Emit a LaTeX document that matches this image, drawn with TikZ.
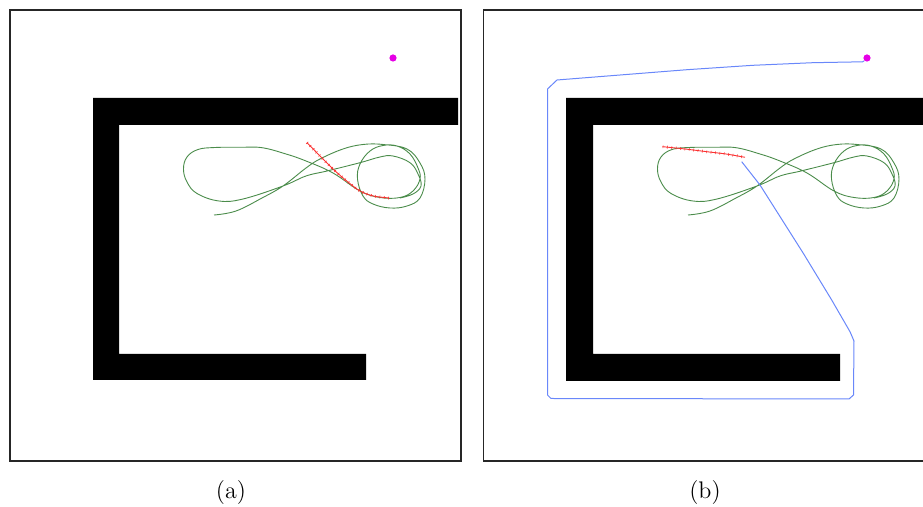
\documentclass[tikz,border=0pt]{standalone}
\usepackage{tikz}
\definecolor{mygreen}{RGB}{75,140,75}
\definecolor{myred}{RGB}{250,50,50}
\definecolor{myblue}{RGB}{105,135,250}
\definecolor{mymagenta}{RGB}{230,0,230}

\begin{document}
\begin{tikzpicture}[
    x=0.5pt, y=-0.5pt,
    frame/.style={draw=black!85, line width=0.55pt},
    wall/.style={fill=black},
    goal/.style={circle, fill=mymagenta, inner sep=0pt, minimum size=3.6pt},
    traj/.style={draw=mygreen, line width=0.45pt},
    pred/.style={draw=myred, line width=0.45pt,
        postaction={draw=myred, line width=1.4pt, dash pattern=on 0.3pt off 1.9pt}},
    plan/.style={draw=myblue, line width=0.5pt, line join=round},
    caption/.style={font=\fontsize{12}{14}\selectfont},
    trajectory/.pic={
        \draw[traj] plot[smooth, tension=0.65] coordinates {
            (214,215) (236,211) (262,198) (283,186) (306,168) (320,159)
            (343,149) (363,144.5) (383,144.5) (407,149) (420,163) (425,179)
            (420,198) (407,206) (390,208) (373,204) (363,196) (357.5,179)
            (360,164) (370,151) (383,145.5) (397,146) (410,154) (418,168)
            (420,179) (413,191) (400,197.5) (380,197.5) (360,191) (333,173)
            (306,161) (286,154) (262,147.7) (240,147.3) (215,147.5) (198,149.5)
            (187,157) (183.5,169) (187,182) (197,193.5) (219,201) (243,199)
            (283,186) (306,176) (327,171) (360,162.7) (380,157) (393,156)
            (410,162.7) (418,174) (421,186) (413,194) (400,198)
        };
    },
]
    \useasboundingbox (0,0) rectangle (923,507);

    % Panel (a)
    \draw[frame] (10,10) rectangle (461,461);
    \fill[wall] (93,98) -- (458,98) -- (458,125) -- (119,125) -- (119,354)
        -- (366,354) -- (366,380) -- (93,380) -- cycle;
    \pic at (0,0) {trajectory};
    \draw[pred] plot[smooth] coordinates {(307,142.7) (321.7,157.7) (333.3,169.3)
        (346.7,181) (360,191) (373.3,196) (389.3,198)};
    \node[goal] (goala) at (393,58) {};
    \node[caption] (capa) at (231,492.5) {(a)};

    % Panel (b)
    \draw[frame] (923,10) -- (483.5,10) -- (483.5,461) -- (923,461);
    \fill[wall] (566,98) -- (923,98) -- (923,125) -- (593,125) -- (593,354)
        -- (840,354) -- (840,381) -- (566,381) -- cycle;
    \pic at (474,0) {trajectory};
    \draw[pred] plot[smooth] coordinates {(662.7,146.7) (685,149) (706.7,151.7)
        (726,154) (745,157.3)};
    \node[goal] (goalb) at (867,58) {};
    \node[caption] (capb) at (705,492.5) {(b)};

    % Planned path
    \draw[plan] (goalb.south west) -- (862.7,61.8) -- (813,62.7) -- (753,65.3)
        -- (687,69.7) -- (557,80) -- (547.5,89) -- (547.5,395) -- (551,398.5)
        -- (849,399) -- (853.5,395) -- (854,341) -- (850,331.7) -- (831.7,300)
        -- (803.3,253.3) -- (760,185) -- (741.7,161.7);
\end{tikzpicture}
\end{document}
